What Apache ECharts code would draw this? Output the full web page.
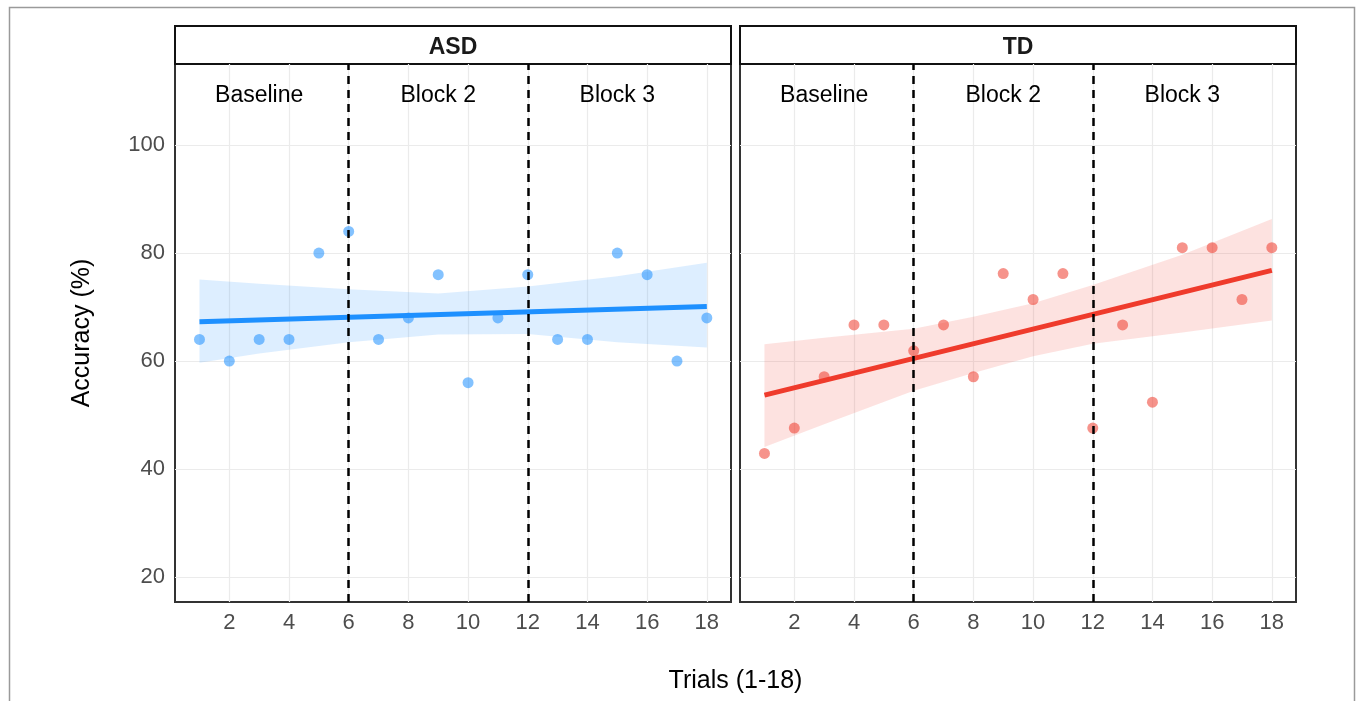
<!DOCTYPE html>
<html>
<head>
<meta charset="utf-8">
<script src="https://cdn.jsdelivr.net/npm/echarts@6/dist/echarts.min.js"></script>
<style>
  html, body { margin: 0; padding: 0; background: #fff; }
  #main { width: 1357px; height: 701px; }
</style>
</head>
<body>
<div id="main"></div>
<script>
// data
var trials = [1, 2, 3, 4, 5, 6, 7, 8, 9, 10, 11, 12, 13, 14, 15, 16, 17, 18];
var asdAcc = [64, 60, 64, 64, 80, 84, 64, 68, 76, 56, 68, 76, 64, 64, 80, 76, 60, 68];
var tdAcc = [42.9, 47.6, 57.1, 66.7, 66.7, 61.9, 66.7, 57.1, 76.2, 71.4, 76.2, 47.6, 66.7, 52.4, 81, 81, 71.4, 81];

// fitted lines (ends) and confidence bands
var fitX = [1, 18];
var asdFit = [67.3, 70.1];
var tdFit = [53.7, 76.8];
var asdBandX = [1, 3, 6, 9, 12, 15, 18];
var asdLower = [59.7, 61.4, 63.5, 64.9, 65.0, 63.5, 62.5];
var asdUpper = [75.1, 74.3, 73.3, 72.5, 73.8, 75.7, 78.2];
var tdBandX = [1, 3, 6, 8, 10, 12, 15, 18];
var tdLower = [44.1, 48.3, 54.5, 57.8, 60.9, 63.2, 65.3, 67.5];
var tdUpper = [63.1, 64.3, 66.0, 68.2, 70.7, 74.1, 79.7, 86.3];

var blockNames = ['Baseline', 'Block 2', 'Block 3'];
var blockX = [3, 9, 15];
var blockY = 109.2;
var blockBreaks = [6, 12];

var xTicks = [2, 4, 6, 8, 10, 12, 14, 16, 18];
var yTicks = [20, 40, 60, 80, 100];
var panelNames = ['ASD', 'TD'];

var FONT = 'Liberation Sans, Arial, sans-serif';

var myChart = echarts.init(document.getElementById('main'));

function makeX (i) {
  return {
    gridIndex: i,
    type: 'value',
    min: 0.18,
    max: 18.81,
    axisLine: { show: false },
    axisTick: { show: false, customValues: xTicks },
    axisLabel: { customValues: xTicks, color: '#4D4D4D', fontSize: 22, margin: 10, fontFamily: FONT },
    splitLine: { show: true, lineStyle: { color: '#EBEBEB', width: 1.2 } }
  };
}

function makeY (i) {
  return {
    gridIndex: i,
    type: 'value',
    min: 15.4,
    max: 115,
    name: i === 0 ? 'Accuracy (%)' : '',
    nameLocation: 'middle',
    nameGap: 80,
    nameTextStyle: { color: '#000', fontSize: 25, fontFamily: FONT },
    axisLine: { show: false },
    axisTick: { show: false, customValues: yTicks },
    axisLabel: { show: i === 0, customValues: yTicks, color: '#4D4D4D', fontSize: 22, margin: 10, fontFamily: FONT },
    splitLine: { show: true, lineStyle: { color: '#EBEBEB', width: 1.2 } }
  };
}

// confidence band as one polygon
function bandSeries (i, xs, lo, hi, color) {
  var data = xs.map(function (x, k) { return [x, lo[k], hi[k]]; });
  return {
    type: 'custom',
    xAxisIndex: i,
    yAxisIndex: i,
    silent: true,
    z: 1,
    encode: { x: 0, y: [1, 2] },
    data: data,
    renderItem: function (params, api) {
      if (params.dataIndex !== 0) return;
      var pts = [];
      for (var k = 0; k < data.length; k++) pts.push(api.coord([data[k][0], data[k][2]]));
      for (var k = data.length - 1; k >= 0; k--) pts.push(api.coord([data[k][0], data[k][1]]));
      return { type: 'polygon', shape: { points: pts }, style: { fill: color } };
    }
  };
}

function pointSeries (i, ys, color) {
  return {
    type: 'scatter',
    xAxisIndex: i,
    yAxisIndex: i,
    symbolSize: 11,
    z: 2,
    itemStyle: { color: color, opacity: 1 },
    data: trials.map(function (t, k) { return [t, ys[k]]; })
  };
}

function fitSeries (i, ys, color) {
  return {
    type: 'line',
    xAxisIndex: i,
    yAxisIndex: i,
    symbol: 'none',
    z: 3,
    lineStyle: { color: color, width: 5 },
    data: fitX.map(function (x, k) { return [x, ys[k]]; }),
    markLine: {
      silent: true,
      symbol: 'none',
      label: { show: false },
      lineStyle: { color: '#000', type: [8, 6], width: 2.5 },
      data: blockBreaks.map(function (v) { return { xAxis: v }; })
    }
  };
}

function labelSeries (i) {
  return {
    type: 'scatter',
    xAxisIndex: i,
    yAxisIndex: i,
    symbolSize: 0,
    silent: true,
    z: 4,
    itemStyle: { opacity: 1 },
    label: { show: true, position: 'inside', formatter: '{b}', color: '#000', opacity: 1, fontSize: 23, fontFamily: FONT },
    data: blockNames.map(function (n, k) { return { name: n, value: [blockX[k], blockY] }; })
  };
}

var panelLeft = [175, 740];
var panelW = 556;

var graphics = [
  { type: 'rect', silent: true, shape: { x: 9.5, y: 7.5, width: 1345, height: 720 },
    style: { fill: 'none', stroke: '#9a9a9a', lineWidth: 1.5 } },
  { type: 'text', silent: true, style: { x: 735.5, y: 681, text: 'Trials (1-18)', textAlign: 'center', textVerticalAlign: 'middle',
    fill: '#000', font: '25px ' + FONT } }
];
panelNames.forEach(function (p, i) {
  graphics.push({ type: 'rect', silent: true, shape: { x: panelLeft[i], y: 26, width: panelW, height: 38 },
    style: { fill: '#fff', stroke: '#111', lineWidth: 2 } });
  graphics.push({ type: 'text', silent: true, style: { x: panelLeft[i] + panelW / 2, y: 48, text: p, textAlign: 'center',
    textVerticalAlign: 'middle', fill: '#1a1a1a', font: 'bold 23px ' + FONT } });
});

option = {
  animation: false,
  backgroundColor: '#fff',
  grid: [
    { left: 175, top: 64, width: panelW, height: 538, show: true, borderColor: '#333', borderWidth: 2, backgroundColor: 'transparent' },
    { left: 740, top: 64, width: panelW, height: 538, show: true, borderColor: '#333', borderWidth: 2, backgroundColor: 'transparent' }
  ],
  xAxis: [makeX(0), makeX(1)],
  yAxis: [makeY(0), makeY(1)],
  graphic: graphics,
  series: [
    bandSeries(0, asdBandX, asdLower, asdUpper, 'rgba(30,144,255,0.15)'),
    pointSeries(0, asdAcc, 'rgba(30,144,255,0.55)'),
    fitSeries(0, asdFit, '#1E90FF'),
    labelSeries(0),
    bandSeries(1, tdBandX, tdLower, tdUpper, 'rgba(239,59,44,0.15)'),
    pointSeries(1, tdAcc, 'rgba(239,59,44,0.55)'),
    fitSeries(1, tdFit, '#EF3B2C'),
    labelSeries(1)
  ]
};

myChart.setOption(option);
window.addEventListener('resize', function () {
  myChart.resize();
});
</script>
</body>
</html>
